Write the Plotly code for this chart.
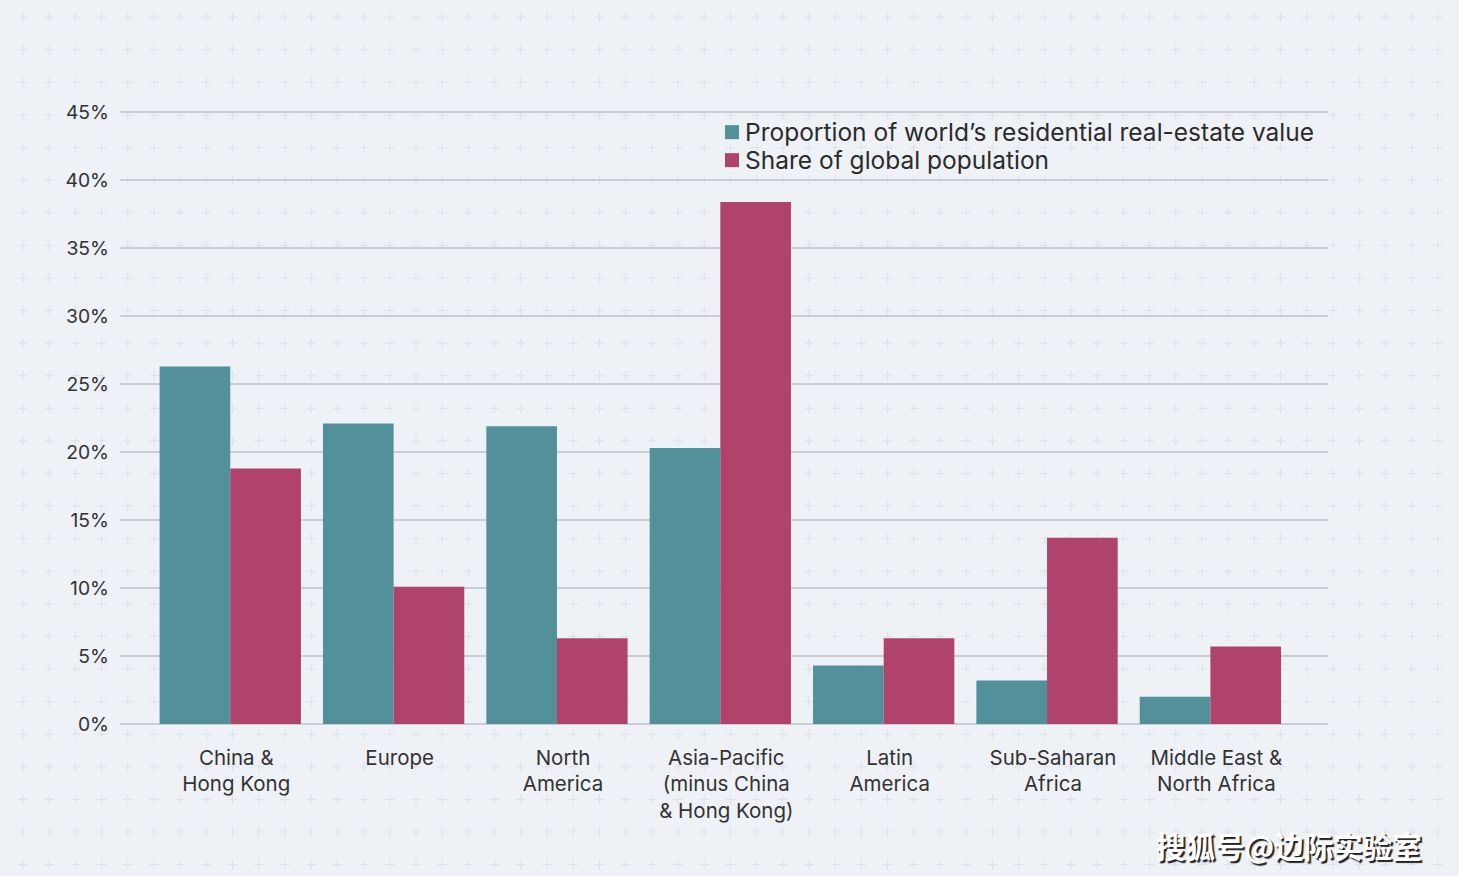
import plotly.graph_objects as go

categories = ["China &<br>Hong Kong", "Europe", "North<br>America",
              "Asia-Pacific<br>(minus China<br>& Hong Kong)", "Latin<br>America",
              "Sub-Saharan<br>Africa", "Middle East &<br>North Africa"]
series_names = ["Proportion of world\u2019s residential real-estate value",
                "Share of global population"]
real_estate_value = [26.3, 22.1, 21.9, 20.3, 4.3, 3.2, 2.0]
population_share = [18.8, 10.1, 6.3, 38.4, 6.3, 13.7, 5.7]
y_ticks = [0, 5, 10, 15, 20, 25, 30, 35, 40, 45]
y_tick_labels = [f"{v}%" for v in y_ticks]

W, H = 1459, 876
YMAX = 45.6
PX_PER = 612 / 45
ML, MR, MB = 120, 131, 152
MT = (H - MB) - YMAX * PX_PER
PW, PH = W - ML - MR, H - MT - MB

TEAL = "#52909a"
CRIMSON = "#b0436b"
BG = "#eef1f6"
FONT = "Inter, Lato, 'Open Sans', sans-serif"
colors = [TEAL, CRIMSON]

fig = go.Figure()
fig.add_trace(go.Bar(x=list(range(len(categories))), y=real_estate_value,
                     name=series_names[0],
                     marker=dict(color=TEAL, line=dict(width=0))))
fig.add_trace(go.Bar(x=list(range(len(categories))), y=population_share,
                     name=series_names[1],
                     marker=dict(color=CRIMSON, line=dict(width=0))))

# decorative plus-sign background pattern (single path in paper coords)
parts = []
arm = 5
for row in range(0, 28):
    py = 17 + row * 32.6
    for col in range(0, 57):
        px = 23 + col * 26.2
        x0 = (px - arm - ML) / PW
        x1 = (px + arm - ML) / PW
        xc = (px - ML) / PW
        yc = (H - MB - py) / PH
        y0 = (H - MB - (py - arm)) / PH
        y1 = (H - MB - (py + arm)) / PH
        parts.append(f"M{x0:.5f},{yc:.5f}L{x1:.5f},{yc:.5f}M{xc:.5f},{y0:.5f}L{xc:.5f},{y1:.5f}")
fig.add_shape(type="path", path="".join(parts), xref="paper", yref="paper",
              line=dict(color="#dde1e8", width=1), layer="below")

# custom legend (square + text)
leg_x_px = 725
leg_y_px = [132, 160]
sq = 14
for name, col, cy in zip(series_names, colors, leg_y_px):
    fig.add_shape(type="rect", xref="paper", yref="paper",
                  x0=(leg_x_px - ML) / PW, x1=(leg_x_px + sq - ML) / PW,
                  y0=(H - MB - (cy + sq / 2)) / PH, y1=(H - MB - (cy - sq / 2)) / PH,
                  fillcolor=col, line=dict(width=0))
    fig.add_annotation(text=name, xref="paper", yref="paper",
                       x=(leg_x_px + sq + 4 - ML) / PW, y=(H - MB - cy) / PH,
                       xanchor="left", yanchor="middle", showarrow=False,
                       font=dict(size=24.5, color="#2b2b2b", family=FONT))

fig.update_layout(
    width=W, height=H,
    margin=dict(l=ML, r=MR, t=MT, b=MB),
    paper_bgcolor=BG, plot_bgcolor="rgba(0,0,0,0)",
    barmode="group", bargap=0.135, bargroupgap=0,
    font=dict(family=FONT, color="#333333"),
    showlegend=False,
    xaxis=dict(range=[-0.675, 6.72], tickmode="array",
               tickvals=list(range(len(categories))), ticktext=categories,
               showgrid=False, zeroline=False, showline=False, ticks="",
               tickfont=dict(size=20.5, color="#333333"), ticklabelshift=6, ticklabelstandoff=19),
    yaxis=dict(range=[0, YMAX], tickmode="array", tickvals=y_ticks, ticktext=y_tick_labels,
               showgrid=True, gridcolor="#c9cdd3", gridwidth=1.5, zeroline=True,
               zerolinecolor="#c9cdd3", zerolinewidth=1.5, showline=False, ticks="",
               tickfont=dict(size=19.3, color="#333333"), ticklabelstandoff=10),
)

fig.add_annotation(text="<b>搜狐号@边际实验室</b>", xref="paper", yref="paper",
                   x=(1424 - ML) / PW, y=(H - MB - 845) / PH, xanchor="right", yanchor="middle",
                   showarrow=False,
                   font=dict(family="Noto Sans CJK SC", size=29.5, color="white",
                             shadow="2px 2px 1px #222222"))

fig.write_html("out.html", config={"displayModeBar": False},
               post_script="document.body.style.margin='0';document.body.style.overflow='hidden';")
